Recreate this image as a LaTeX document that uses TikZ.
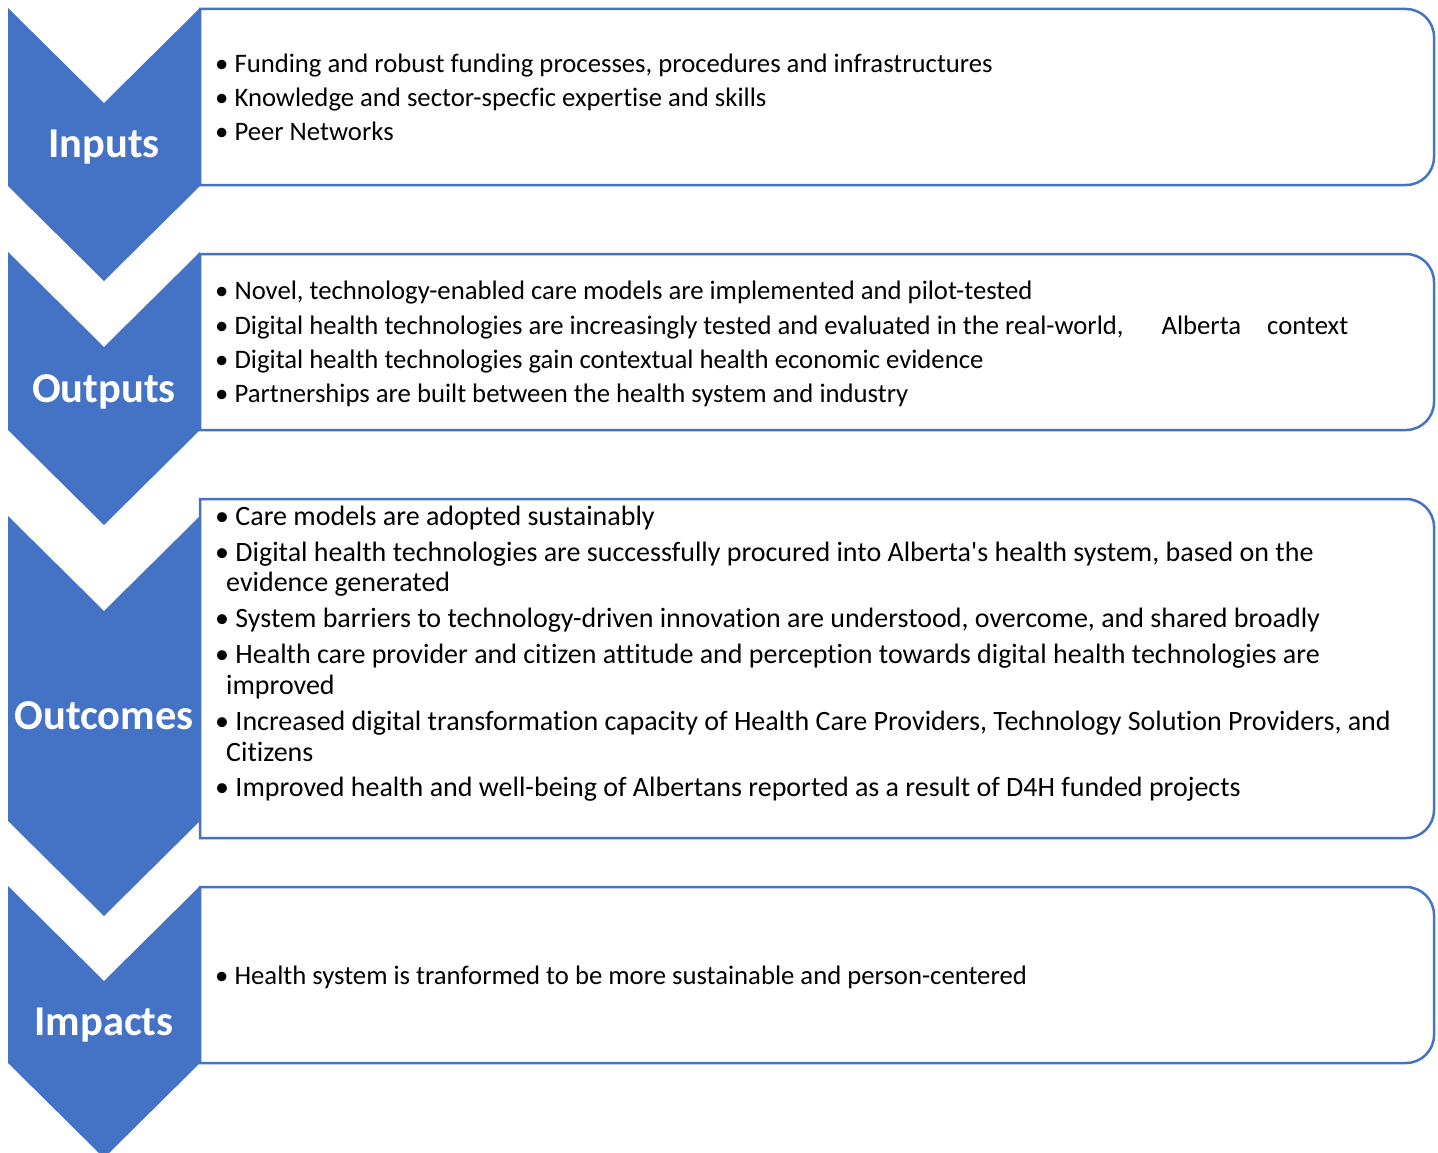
\documentclass[tikz,border=0pt]{standalone}
\usepackage{fontspec}
\setmainfont{Carlito}[Ligatures={NoCommon,TeX}]
\definecolor{cblue}{HTML}{4472C4}
\begin{document}
\begin{tikzpicture}[x=1pt,y=1pt,
  chev/.style={fill=cblue,draw=none},
  boxline/.style={draw=cblue,line width=2.5pt},
  lbl/.style={text=white,font=\fontsize{42.5}{48}\selectfont\bfseries,inner sep=0pt},
  itm/.style={anchor=mid west,inner sep=0pt,font=\fontsize{26.7}{32}\selectfont},
  itmb/.style={itm,font=\fontsize{28}{34}\selectfont}]
\useasboundingbox (0,0) rectangle (1438,-1153);
% chevrons
\newcommand\chevron[2]{%
  \fill[chev] (8,-#1) -- (104,-#1-95) -- (200,-#1) -- (200,-#2) -- (104,-#2-95) -- (8,-#2) -- cycle;}
\newcommand\rbox[2]{%
  \draw[boxline] (200,-#1) -- (1406,-#1) arc[start angle=90,end angle=0,radius=28] -- (1434,-#2+28) arc[start angle=0,end angle=-90,radius=28] -- (200,-#2) -- cycle;}
\chevron{8}{186}
\chevron{252}{430}
\chevron{516}{821}
\chevron{886}{1063}
\rbox{9}{185}
\rbox{254}{430}
\rbox{499}{838}
\rbox{887}{1063}
\node[lbl] (l1) at (104,-147) {Inputs};
\node[lbl] (l2) at (104,-392) {Outputs};
\node[lbl] (l3) at (104,-716) {Outcomes};
\node[lbl] (l4) at (104,-1025) {Impacts};
% inputs
\node[itm] (a1) at (215,-70) {• Funding and robust funding processes, procedures and infrastructures};
\node[itm] (a2) at (215,-104) {• Knowledge and sector-specfic expertise and skills};
\node[itm] (a3) at (215,-138) {• Peer Networks};
% outputs
\node[itm] (b1) at (215,-297) {• Novel, technology-enabled care models are implemented and pilot-tested};
\node[itm] (b2) at (215,-332) {• Digital health technologies are increasingly tested and evaluated in the real-world,\hspace{38pt}Alberta\hspace{26pt}context};
\node[itm] (b3) at (215,-366) {• Digital health technologies gain contextual health economic evidence};
\node[itm] (b4) at (215,-400) {• Partnerships are built between the health system and industry};
% outcomes
\node[itmb] (c1) at (215,-523) {• Care models are adopted sustainably};
\node[itmb] (c2) at (215,-559) {• Digital health technologies are successfully procured into Alberta\textquotesingle s health system, based on the};
\node[itmb] (c2b) at (226,-589) {evidence generated};
\node[itmb] (c3) at (215,-625) {• System barriers to technology-driven innovation are understood, overcome, and shared broadly};
\node[itmb] (c4) at (215,-661) {• Health care provider and citizen attitude and perception towards digital health technologies are};
\node[itmb] (c4b) at (226,-692) {improved};
\node[itmb] (c5) at (215,-728) {• Increased digital transformation capacity of Health Care Providers, Technology Solution Providers, and};
\node[itmb] (c5b) at (226,-759) {Citizens};
\node[itmb] (c6) at (215,-794) {• Improved health and well-being of Albertans reported as a result of D4H funded projects};
% impacts
\node[itm] (d1) at (215,-982) {• Health system is tranformed to be more sustainable and person-centered};
\end{tikzpicture}
\end{document}
